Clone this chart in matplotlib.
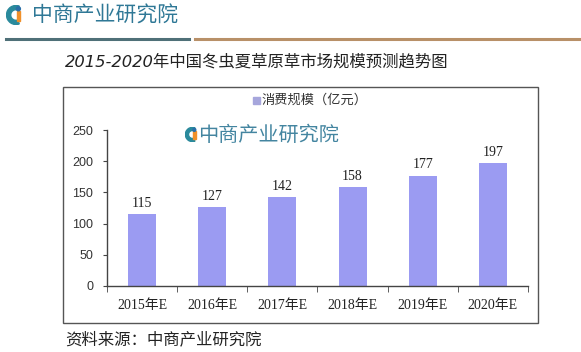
import matplotlib.pyplot as plt
from matplotlib.patches import Rectangle, Wedge
from matplotlib.lines import Line2D

# data
years = ['2015年E', '2016年E', '2017年E', '2018年E', '2019年E', '2020年E']
values = [115, 127, 142, 158, 177, 197]
series_name = '消费规模（亿元）'
title = '2015-2020年中国冬虫夏草原草市场规模预测趋势图'
source = '资料来源：中商产业研究院'
brand = '中商产业研究院'

W, H = 581, 352
CJK = ['Noto Sans CJK SC', 'DejaVu Sans']
ITAL = ['DejaVu Sans', 'Noto Sans CJK SC']
SERIF = ['Liberation Serif', 'Noto Sans CJK SC']
bar_color = '#9b9bf2'
brand_color = '#2f7896'

fig = plt.figure(figsize=(W / 100, H / 100), dpi=100)
fig.patch.set_facecolor('white')


def fx(px):
    return px / W


def fy(py):
    return 1 - py / H


def draw_icon(x0, y0, size):
    # small "C" logo: teal arc with an orange slab
    iax = fig.add_axes([fx(x0), fy(y0 + size), fx(size), size / H])
    iax.set_xlim(-1, 1)
    iax.set_ylim(-1, 1)
    iax.set_aspect('equal')
    iax.axis('off')
    iax.add_patch(Wedge((0, 0), 0.95, 70, 290, width=0.42, color='#2a8a9c'))
    iax.add_patch(Rectangle((0.05, -0.55), 0.38, 0.95, color='#f0902a'))
    iax.add_patch(Wedge((0.24, 0.62), 0.2, 0, 360, color='#2a6fa8'))


# header logo and rule lines
draw_icon(6, 5, 20)
fig.text(fx(32), fy(16), brand, family=CJK, fontsize=15, color=brand_color,
         va='center', ha='left')
fig.add_artist(Line2D([fx(6), fx(189)], [fy(39), fy(39)], color='#4f7078',
                      lw=2.2, transform=fig.transFigure))
fig.add_artist(Line2D([fx(195), fx(581)], [fy(39), fy(39)], color='#b89068',
                      lw=2.2, transform=fig.transFigure))

# title and source
fig.text(fx(65), fy(62), title, family=ITAL, fontsize=11.8, style='italic',
         color='#222222', va='center', ha='left')
fig.text(fx(65), fy(340), source, family=CJK, fontsize=11.8, style='italic',
         color='#222222', va='center', ha='left')

# chart frame
fig.add_artist(Rectangle((fx(63), fy(323)), fx(538 - 63), (323 - 87) / H,
                         fill=False, edgecolor='#555555', lw=1,
                         transform=fig.transFigure))

# main axes
ax = fig.add_axes([fx(107), fy(286), fx(528 - 107), (286 - 130) / H])
ax.set_facecolor('none')
x = list(range(len(years)))
bars = ax.bar(x, values, width=0.4, color=bar_color, zorder=2)
ax.bar_label(bars, labels=[str(v) for v in values], padding=3,
             family=SERIF, fontsize=10, color='#222222')

ax.set_xlim(-0.5, len(years) - 0.5)
ax.set_ylim(0, 250)
ax.set_yticks(range(0, 251, 50))
ax.set_xticks(x)
ax.set_xticklabels(years, family=SERIF, fontsize=10, color='#222222')
ax.set_xticks([i - 0.5 for i in range(len(years) + 1)], minor=True)
ax.tick_params(axis='x', which='major', length=0, pad=9)
ax.tick_params(axis='x', which='minor', length=4, direction='out', color='#444444')
ax.tick_params(axis='y', length=3, direction='out', color='#444444',
               labelsize=9, labelcolor='#333333', pad=7)
for lbl in ax.get_yticklabels():
    lbl.set_family(['Liberation Sans', 'DejaVu Sans'])

for s in ['top', 'right']:
    ax.spines[s].set_visible(False)
for s in ['left', 'bottom']:
    ax.spines[s].set_color('#444444')
    ax.spines[s].set_linewidth(1)

# legend
fig.add_artist(Rectangle((fx(253), fy(104)), fx(7), 7 / H, color='#a6a6dc',
                         transform=fig.transFigure))
fig.text(fx(262), fy(100.5), series_name, family=CJK, fontsize=9.5,
         color='#333333', va='center', ha='left')

# watermark
draw_icon(185, 127, 15)
fig.text(fx(198), fy(135), brand, family=CJK, fontsize=14.5, color=brand_color,
         va='center', ha='left', alpha=0.9)

fig.savefig('out.png', dpi=100)
